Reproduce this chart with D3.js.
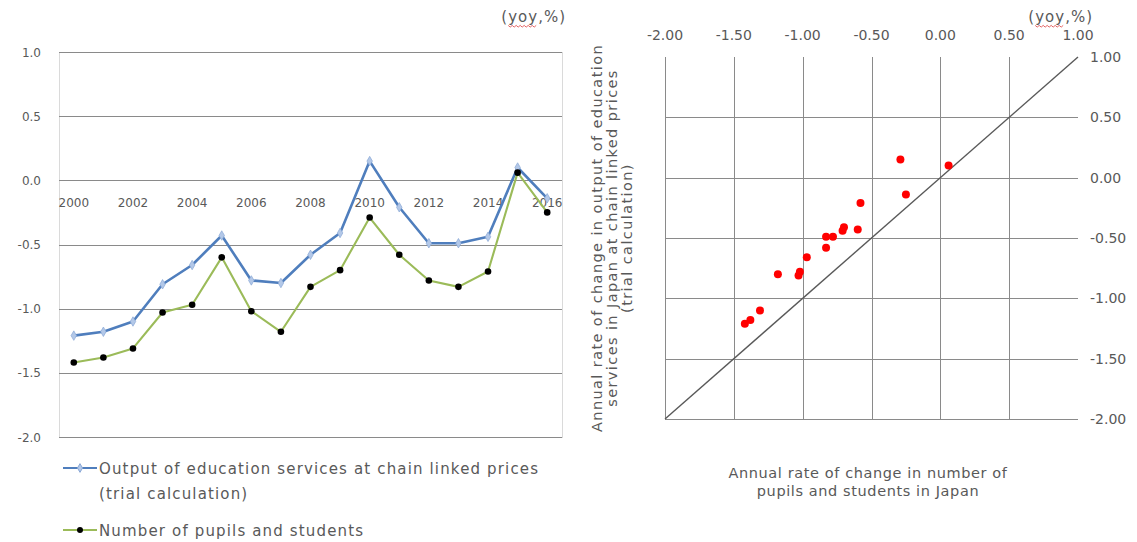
<!DOCTYPE html>
<html>
<head>
<meta charset="utf-8">
<script src="https://cdn.jsdelivr.net/npm/d3@7"></script>
<style>
  html, body { margin: 0; padding: 0; background: #fff; }
  svg text { font-family: "DejaVu Sans", Verdana, sans-serif; fill: #595959; }
</style>
</head>
<body>
<svg id="chart" width="1137" height="542"></svg>
<script>
// Years on the category axis
const years = d3.range(2000, 2017);
const yearLabels = ["2000","2002","2004","2006","2008","2010","2012","2014","2016"];

// Output of education services at chain linked prices (trial calculation), yoy %
const outputGrowth = [-1.21, -1.18, -1.10, -0.81, -0.66, -0.43, -0.78, -0.80, -0.58, -0.41,
                       0.15, -0.21, -0.49, -0.49, -0.44, 0.10, -0.14];
// Number of pupils and students, yoy %
const pupilsGrowth = [-1.42, -1.38, -1.31, -1.03, -0.97, -0.60, -1.02, -1.18, -0.83, -0.70,
                      -0.29, -0.58, -0.78, -0.83, -0.71, 0.06, -0.25];

const leftTicks = [1.0, 0.5, 0.0, -0.5, -1.0, -1.5, -2.0];
const scatterTicks = [-2.0, -1.5, -1.0, -0.5, 0.0, 0.5, 1.0];

const legendLabels = [
  ["Output of education services at chain linked prices", "(trial calculation)"],
  ["Number of pupils and students"]
];
const yTitle = ["Annual rate of change in output  of education",
                "services in Japan at chain linked prices",
                "(trial calculation)"];
const xTitle = ["Annual rate of change in number of",
                "pupils and students in Japan"];
const unitLabel = "(yoy,%)";

// Plain hyphen for negative numbers
const loc = d3.formatLocale({ decimal: ".", thousands: ",", grouping: [3],
                              currency: ["", ""], minus: "-" });
const f1 = loc.format(".1f"), f2 = loc.format(".2f");

const svg = d3.select("#chart");
svg.style("white-space", "pre");
const gridColor = "#8a8a8a";
const blue = "#4F7EBD";
const green = "#9BBB59";

// "(yoy,%)" with a red wavy underline below "yoy"
function unitText(xEnd, y) {
  const t = svg.append("text").attr("x", xEnd).attr("y", y)
    .attr("text-anchor", "end").attr("font-size", 15).attr("letter-spacing", 1)
    .text(unitLabel);
  const n = t.node();
  const s = n.getStartPositionOfChar(1).x;
  const e = n.getEndPositionOfChar(3).x;
  const pts = [];
  for (let px = s, i = 0; px <= e; px += 2, i++) pts.push([px, y + 4 + (i % 2 ? 1.1 : -0.6)]);
  svg.append("path").attr("d", d3.line()(pts)).attr("fill", "none")
    .attr("stroke", "#e05555").attr("stroke-width", 0.9);
}

/* ---------- Left: time series ---------- */
const L = { x0: 59, x1: 562, y0: 52, y1: 437 };
const xL = d3.scaleBand().domain(years).range([L.x0, L.x1]).padding(0);
const yL = d3.scaleLinear().domain([-2, 1]).range([L.y1, L.y0]);

const left = svg.append("g");
left.append("rect").attr("x", L.x0 + 0.5).attr("y", L.y0 + 0.5)
  .attr("width", L.x1 - L.x0).attr("height", L.y1 - L.y0)
  .attr("fill", "none").attr("stroke", "#dadada");
left.selectAll(".gl").data(leftTicks).join("line")
  .attr("x1", L.x0).attr("x2", L.x1)
  .attr("y1", d => Math.round(yL(d)) + 0.5).attr("y2", d => Math.round(yL(d)) + 0.5)
  .attr("stroke", gridColor).attr("stroke-width", 1);
left.selectAll(".yl").data(leftTicks).join("text")
  .attr("x", 41).attr("y", d => yL(d) + 4.5)
  .attr("text-anchor", "end").attr("font-size", 12)
  .text(d => f1(d));
left.selectAll(".xl").data(yearLabels).join("text")
  .attr("x", d => xL(+d) + xL.bandwidth() / 2).attr("y", yL(0) + 27)
  .attr("text-anchor", "middle").attr("font-size", 12).text(d => d);

const cx = (d, i) => xL(years[i]) + xL.bandwidth() / 2;
const lineGen = d3.line().x(cx).y(d => yL(d));

left.append("path").attr("d", lineGen(outputGrowth)).attr("fill", "none")
  .attr("stroke", blue).attr("stroke-width", 2.6).attr("stroke-linejoin", "round");
left.selectAll(".dm").data(outputGrowth).join("path")
  .attr("d", d3.symbol(d3.symbolDiamond, 26))
  .attr("transform", (d, i) => `translate(${cx(d, i)},${yL(d)})`)
  .attr("fill", "#b3c8e8").attr("stroke", "#8aa8d6").attr("stroke-width", 0.7);

left.append("path").attr("d", lineGen(pupilsGrowth)).attr("fill", "none")
  .attr("stroke", green).attr("stroke-width", 2.1).attr("stroke-linejoin", "round");
left.selectAll(".dt").data(pupilsGrowth).join("circle")
  .attr("cx", cx).attr("cy", d => yL(d)).attr("r", 3.3).attr("fill", "#000");

unitText(566, 22);

// Legend
const lg = svg.append("g");
const legText = (x, y, s) => lg.append("text").attr("x", x).attr("y", y)
  .attr("font-size", 15).attr("letter-spacing", 1.15).text(s);
lg.append("line").attr("x1", 63).attr("x2", 97).attr("y1", 468).attr("y2", 468)
  .attr("stroke", blue).attr("stroke-width", 2.2);
lg.append("path").attr("d", d3.symbol(d3.symbolDiamond, 22))
  .attr("transform", "translate(80,468)").attr("fill", "#b3c8e8").attr("stroke", "#8aa8d6");
legText(99, 473.5, legendLabels[0][0]);
legText(99, 499, legendLabels[0][1]);
lg.append("line").attr("x1", 63).attr("x2", 97).attr("y1", 530).attr("y2", 530)
  .attr("stroke", green).attr("stroke-width", 2);
lg.append("circle").attr("cx", 80).attr("cy", 530).attr("r", 3).attr("fill", "#000");
legText(99, 535.5, legendLabels[1][0]);

/* ---------- Right: scatter ---------- */
const R = { x0: 665, x1: 1078, y0: 57, y1: 419 };
const xR = d3.scaleLinear().domain([-2, 1]).range([R.x0, R.x1]);
const yR = d3.scaleLinear().domain([-2, 1]).range([R.y1, R.y0]);
const right = svg.append("g");
const inner = scatterTicks.filter(d => d < 1);

right.selectAll(".vg").data(inner).join("line")
  .attr("x1", d => Math.round(xR(d)) + 0.5).attr("x2", d => Math.round(xR(d)) + 0.5)
  .attr("y1", R.y0).attr("y2", R.y1).attr("stroke", gridColor);
right.selectAll(".hg").data(inner).join("line")
  .attr("x1", R.x0).attr("x2", R.x1)
  .attr("y1", d => Math.round(yR(d)) + 0.5).attr("y2", d => Math.round(yR(d)) + 0.5)
  .attr("stroke", gridColor);

right.selectAll(".xt").data(scatterTicks).join("text")
  .attr("x", d => xR(d)).attr("y", 40).attr("text-anchor", "middle")
  .attr("font-size", 14).text(d => f2(d));
right.selectAll(".yt").data(scatterTicks).join("text")
  .attr("x", 1090).attr("y", d => yR(d) + 5)
  .attr("font-size", 14).text(d => f2(d));

// 45-degree reference line
right.append("line").attr("x1", xR(-2)).attr("y1", yR(-2)).attr("x2", xR(1)).attr("y2", yR(1))
  .attr("stroke", "#595959").attr("stroke-width", 1.4);

right.selectAll(".pt").data(pupilsGrowth).join("circle")
  .attr("cx", d => xR(d)).attr("cy", (d, i) => yR(outputGrowth[i]))
  .attr("r", 4).attr("fill", "#ff0000");

unitText(1093, 22);

// Axis titles
const yt = svg.append("text").attr("transform", "translate(602,238) rotate(-90)")
  .attr("text-anchor", "middle").attr("font-size", 14.5).attr("letter-spacing", 1.4)
  .attr("fill", "#404040");
yTitle.forEach((s, i) => yt.append("tspan").attr("x", 0).attr("dy", i ? 15 : 0).text(s));

const xt = svg.append("text").attr("text-anchor", "middle").attr("font-size", 14.5)
  .attr("letter-spacing", 0.6);
xTitle.forEach((s, i) => xt.append("tspan").attr("x", 868).attr("y", 478 + i * 18).text(s));
</script>
</body>
</html>
